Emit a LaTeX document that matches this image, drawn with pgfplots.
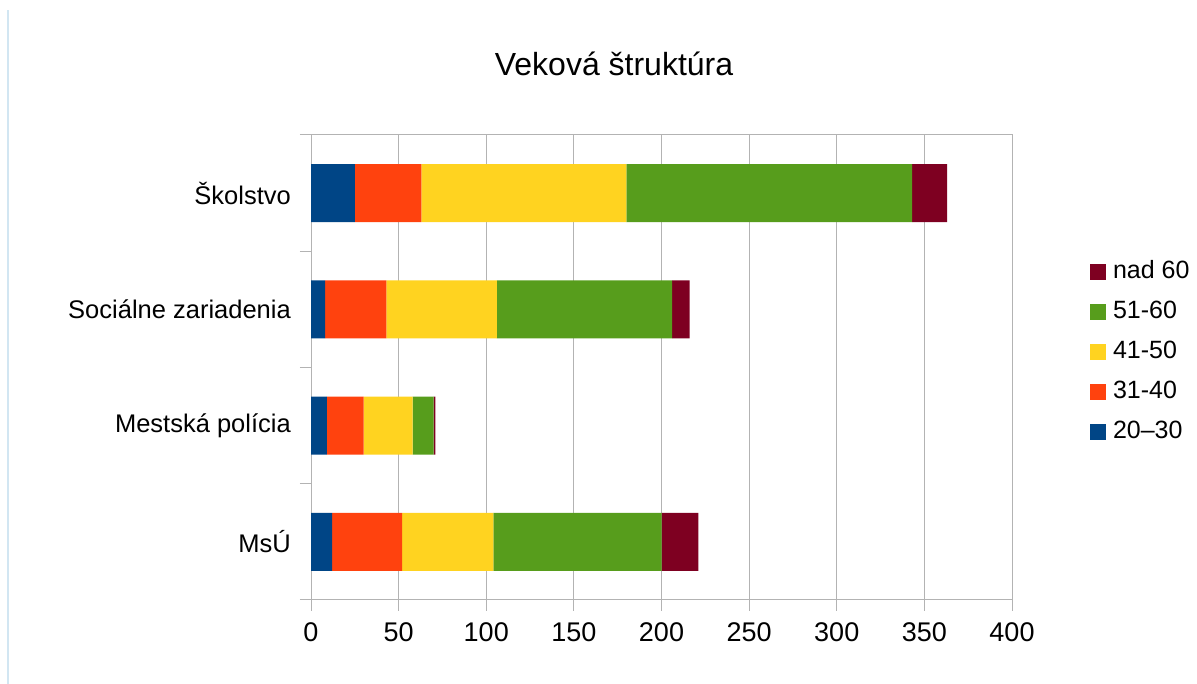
\documentclass[border=0pt]{standalone}
\usepackage{fontspec}
\setmainfont{Liberation Sans}
\usepackage{pgfplots}
\pgfplotsset{compat=1.18}
\definecolor{cA}{HTML}{004586}
\definecolor{cB}{HTML}{FF420E}
\definecolor{cC}{HTML}{FFD320}
\definecolor{cD}{HTML}{579D1C}
\definecolor{cE}{HTML}{7E0021}
\definecolor{gridgray}{HTML}{B3B3B3}
\definecolor{edgeblue}{HTML}{D2E6F2}
\begin{document}
\begin{tikzpicture}
\useasboundingbox (0,0) rectangle (1197pt,684pt);
\fill[white] (0,0) rectangle (1197pt,684pt);
\draw[edgeblue, line width=1.2pt] (8pt,0) -- (8pt,674pt);
\begin{axis}[
  at={(311pt,84pt)}, anchor=south west,
  scale only axis, width=701pt, height=465pt,
  xbar stacked, bar width=0.5,
  xmin=0, xmax=400, ymin=-0.5, ymax=3.5,
  xtick={0,50,...,400},
  ytick={0,1,2,3},
  yticklabels={MsÚ, Mestská polícia, Sociálne zariadenia, Školstvo},
  minor ytick={-0.5,0.5,1.5,2.5,3.5},
  xmajorgrids,
  major grid style={draw=gridgray, line width=1pt},
  axis line style={draw=gridgray, line width=1pt},
  tick style={draw=gridgray, line width=1pt},
  major y tick style={draw=none},
  tick align=outside,
  xtick pos=bottom, ytick pos=left,
  major tick length=11pt, minor tick length=11pt,
  /pgf/number format/assume math mode=true,
  xticklabel style={font=\fontsize{27}{30}\selectfont, inner sep=0pt, anchor=north, yshift=-11pt},
  yticklabel style={font=\fontsize{25.5}{30}\selectfont, inner sep=0pt, anchor=east, xshift=-9pt},
  legend image code/.code={\fill[#1] (0pt,-7pt) rectangle (16pt,9pt);},
  reverse legend,
  legend cell align=left,
  legend style={draw=none, fill=none, inner sep=0pt, outer sep=0pt,
    at={(1.1113,0.532)}, anchor=west,
    font=\fontsize{25}{30}\selectfont,
    nodes={inner sep=0pt, text height=17pt, text depth=5pt},
    row sep=18pt,
    /tikz/every odd column/.append style={column sep=7pt}},
]
\addplot[fill=cA, draw=none] coordinates {(12,0) (9,1) (8,2) (25,3)};
\addplot[fill=cB, draw=none] coordinates {(40,0) (21,1) (35,2) (38,3)};
\addplot[fill=cC, draw=none] coordinates {(52,0) (28,1) (63,2) (117,3)};
\addplot[fill=cD, draw=none] coordinates {(96,0) (12,1) (100,2) (163,3)};
\addplot[fill=cE, draw=none] coordinates {(21,0) (1,1) (10,2) (20,3)};
\legend{20–30, 31-40, 41-50, 51-60, nad 60}
\end{axis}
\node[anchor=base, font=\fontsize{32}{36}\selectfont] at (614pt,608pt) {Veková štruktúra};
\end{tikzpicture}
\end{document}
